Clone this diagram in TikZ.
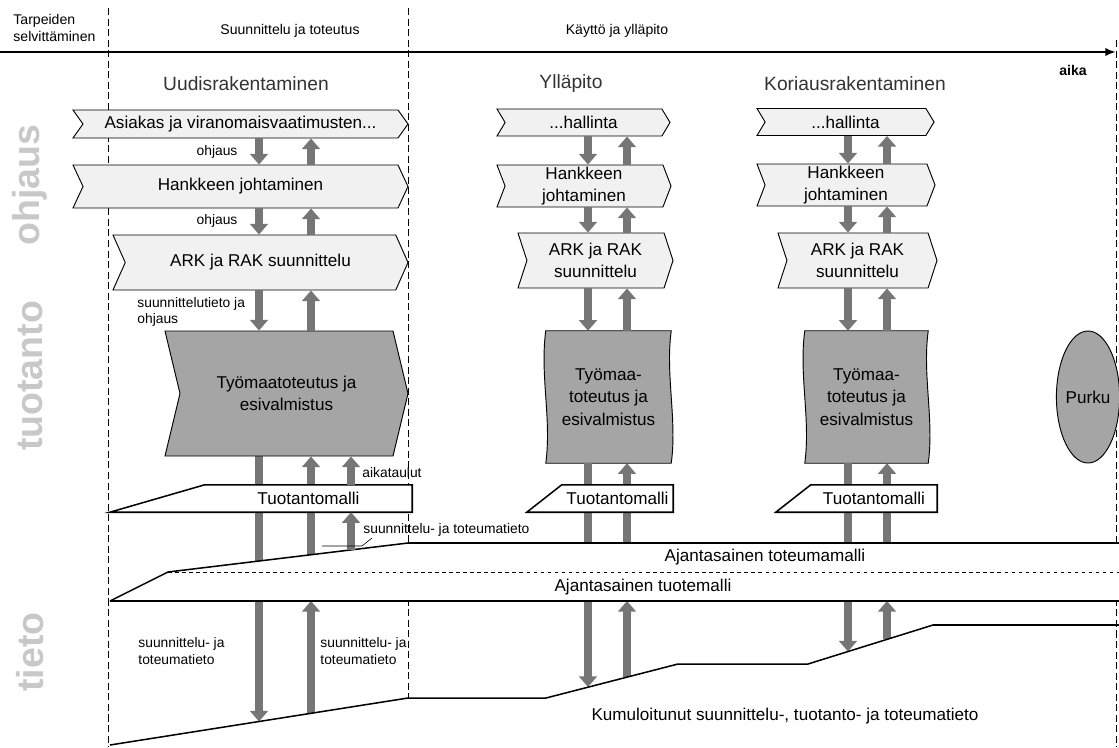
\documentclass[tikz,border=0pt]{standalone}
\usepackage{fontspec}
\setmainfont{Liberation Sans}
\usetikzlibrary{arrows.meta,positioning,shapes.symbols,shapes.geometric}
\definecolor{chevfill}{RGB}{241,241,241}
\definecolor{sitefill}{RGB}{165,165,165}
\definecolor{flowgray}{RGB}{118,118,118}
\definecolor{sidegray}{RGB}{200,200,200}
\pgfdeclarelayer{back}
\pgfsetlayers{back,main}
\tikzset{
  chev/.style={
    signal,
    signal from=west,
    signal to=east,
    draw=black,
    line width=0.8pt,
    fill=chevfill,
    inner sep=0pt,
    align=center,
    font=\fontsize{14.6}{19}\selectfont
  },
  site/.style={chev, fill=sitefill},
  sitebox/.style={
    rectangle,
    inner sep=0pt,
    align=center,
    minimum height=3.96cm,
    font=\fontsize{14.6}{19}\selectfont
  },
  model/.style={
    rectangle,
    inner sep=0pt,
    minimum height=0.81cm,
    font=\fontsize{14.6}{19}\selectfont
  },
  modelshape/.style={fill=white, draw=black, line width=1.3pt},
  flow/.style={draw=flowgray, line width=6pt, -{Triangle[length=9pt,width=15pt]}},
  note/.style={inner sep=1pt, align=left, font=\fontsize{11.8}{14}\selectfont},
  bandtext/.style={font=\fontsize{14.6}{19}\selectfont},
  phase/.style={inner sep=1pt, font=\fontsize{12}{14}\selectfont},
  title/.style={font=\fontsize{16.4}{19}\selectfont, text=black!80},
  side/.style={rotate=90, font=\bfseries\fontsize{32}{32}\selectfont, text=sidegray},
  guide/.style={dash pattern=on 6pt off 3pt, line width=0.5pt},
  level/.style={line width=1.3pt}
}

\begin{document}
\begin{tikzpicture}[x=0.03cm, y=-0.03cm]
  \useasboundingbox (0,0) rectangle (1119,747);

  % aikajana ja vaiheet
  \coordinate (t0) at (0,52);
  \coordinate (t1) at (1116,52);
  \draw[line width=1.8pt, -{Latex[length=9pt,width=7pt]}] (t0) -- (t1);
  \node[phase, align=left, anchor=west] (tarve) at (12,28) {Tarpeiden\\selvittäminen};
  \node[phase] (suto) at (290,31) {Suunnittelu ja toteutus};
  \node[phase] (kayt) at (617,31) {Käyttö ja ylläpito};
  \node[font=\bfseries\fontsize{12}{14}\selectfont] (aika) at (1073,70) {aika};

  % tasot
  \node[side] (ohj) at (30,185) {ohjaus};
  \node[side] (tuo) at (30,376) {tuotanto};
  \node[side] (tie) at (30,652) {tieto};

  \node[title] (uudis) at (246,84) {Uudisrakentaminen};
  \node[title] (yllap) at (571,84) {Ylläpito};
  \node[title] (korj) at (855,84) {Koriausrakentaminen};

  % uudisrakentaminen
  \node[chev, signal pointer angle=109, minimum width=10.05cm, minimum height=0.84cm] (asiakas) at (240.5,124) {Asiakas ja viranomaisvaatimusten...};
  \node[chev, signal pointer angle=130, minimum width=10.05cm, minimum height=1.29cm] (hank1) at (240.5,186.5) {Hankkeen johtaminen};
  \node[chev, signal pointer angle=132, minimum width=8.85cm, minimum height=1.65cm] (ark1) at (260.5,262.5) {ARK ja RAK suunnittelu};
  \node[site, signal pointer angle=153, minimum width=7.29cm, minimum height=3.75cm] (tyo1) at (286.5,393.5) {Työmaatoteutus ja\\esivalmistus};

  % ylläpito
  \node[chev, signal pointer angle=118, minimum width=5.19cm, minimum height=0.81cm] (hall2) at (583.5,122.5) {...hallinta};
  \node[chev, signal pointer angle=138, minimum width=5.22cm, minimum height=1.26cm] (hank2) at (584,186) {Hankkeen\\johtaminen};
  \node[chev, signal pointer angle=144, minimum width=4.65cm, minimum height=1.65cm] (ark2) at (595.5,260.5) {ARK ja RAK\\suunnittelu};
  \node[sitebox, minimum width=3.75cm] (tyo2) at (608.5,397) {Työmaa-\\toteutus ja\\esivalmistus};

  % korjausrakentaminen
  \node[chev, signal pointer angle=118, minimum width=5.31cm, minimum height=0.81cm] (hall3) at (845.5,122) {...hallinta};
  \node[chev, signal pointer angle=138, minimum width=5.34cm, minimum height=1.26cm] (hank3) at (846,185) {Hankkeen\\johtaminen};
  \node[chev, signal pointer angle=144, minimum width=4.77cm, minimum height=1.65cm] (ark3) at (857.5,260.5) {ARK ja RAK\\suunnittelu};
  \node[sitebox, minimum width=3.69cm] (tyo3) at (866.5,397) {Työmaa-\\toteutus ja\\esivalmistus};

  \node[ellipse, draw=black, line width=0.8pt, fill=sitefill, inner sep=0pt,
        minimum width=1.74cm, minimum height=3.96cm,
        font=\fontsize{14.6}{19}\selectfont] (purku) at (1088,397) {Purku};

  % tuotantomallit
  \node[model, minimum width=6.21cm] (tm1) at (308.5,498.5) {Tuotantomalli};
  \node[model, minimum width=3.33cm] (tm2) at (617.5,498.5) {Tuotantomalli};
  \node[model, minimum width=3.78cm] (tm3) at (874,498.5) {Tuotantomalli};

  % nuolten sarakkeet
  \coordinate (dU) at (259,0);
  \coordinate (uU) at (311,0);
  \coordinate (aU) at (351,0);
  \coordinate (dY) at (588,0);
  \coordinate (uY) at (627,0);
  \coordinate (dK) at (848,0);
  \coordinate (uK) at (887,0);

  % tietomallien rajat
  \coordinate (b0) at (110,601);
  \coordinate (b1) at (168,572);
  \coordinate (b2) at (408,543);
  \coordinate (b3) at (1119,543);
  \coordinate (b4) at (1119,601);
  \coordinate (c0) at (110,745);
  \coordinate (c1) at (408,698);
  \coordinate (c2) at (546,698);
  \coordinate (c3) at (678,664);
  \coordinate (c4) at (808,664);
  \coordinate (c5) at (933,625);
  \coordinate (c6) at (1119,625);
  % nuolten päät viivoilla
  \coordinate (kU1) at (259,721.5);
  \coordinate (kU2) at (311,713);
  \coordinate (kY1) at (588,687);
  \coordinate (kY2) at (627,677);
  \coordinate (kK1) at (848,651.5);
  \coordinate (kK2) at (887,639);
  \coordinate (mU1) at (311,554.7);
  \coordinate (mU2) at (351,550);

  \foreach \p/\q in {asiakas/hank1, hank1/ark1, ark1/tyo1}{
    \draw[flow] (\p.south -| dU) -- (\q.north -| dU);
    \draw[flow] (\q.north -| uU) -- (\p.south -| uU);
  }
  \foreach \p/\q in {hall2/hank2, hank2/ark2, ark2/tyo2}{
    \draw[flow] (\p.south -| dY) -- (\q.north -| dY);
    \draw[flow] (\q.north -| uY) -- (\p.south -| uY);
  }
  \foreach \p/\q in {hall3/hank3, hank3/ark3, ark3/tyo3}{
    \draw[flow] (\p.south -| dK) -- (\q.north -| dK);
    \draw[flow] (\q.north -| uK) -- (\p.south -| uK);
  }

  \begin{pgfonlayer}{back}
    \draw[guide] (108,8) -- (108,747);
    \draw[guide] (408,8) -- (408,698);
    \draw[guide] (1116,40) -- (1116,747);

    \foreach \s in {tyo2,tyo3}
      \filldraw[fill=sitefill, draw=black, line width=0.8pt]
        (\s.north west) .. controls ++(-6,44) and ++(6,-44) .. (\s.south west)
        -- (\s.south east) .. controls ++(6,-44) and ++(-6,44) .. (\s.north east) -- cycle;

    % pitkät nuolet mallien läpi
    \draw[flow] (tyo1.south -| dU) -- (kU1);
    \draw[flow] (mU1) -- (tyo1.south -| uU);
    \draw[flow] (kU2) -- (b0 -| uU);
    \draw[flow] (tyo2.south -| dY) -- (kY1);
    \draw[flow] (b3 -| uY) -- (tyo2.south -| uY);
    \draw[flow] (kY2) -- (b0 -| uY);
    \draw[flow] (tyo3.south -| dK) -- (kK1);
    \draw[flow] (b3 -| uK) -- (tyo3.south -| uK);
    \draw[flow] (kK2) -- (b0 -| uK);

    \fill[white] (b0) -- (b1) -- (b2) -- (b3) -- (b4) -- cycle;
    \draw[level] (b0) -- (b1) -- (b2) -- (b3);
    \draw[level] (b0) -- (b4);
    \draw[dashed, line width=0.6pt] (b1) -- (b1 -| b4);
    \draw[level] (c0) -- (c1) -- (c2) -- (c3) -- (c4) -- (c5) -- (c6);

    \filldraw[modelshape] (tm1.north east) -- (tm1.north west) -- ([xshift=-2.85cm]tm1.south west) -- (tm1.south east) -- cycle;
    \filldraw[modelshape] (tm2.north east) -- (tm2.north west) -- ([xshift=-1.05cm]tm2.south west) -- (tm2.south east) -- cycle;
    \filldraw[modelshape] (tm3.north east) -- (tm3.north west) -- ([xshift=-1.05cm]tm3.south west) -- (tm3.south east) -- cycle;
  \end{pgfonlayer}

  \draw[flow] (tm1.north -| aU) -- (tyo1.south -| aU);
  \draw[flow] (mU2) -- (tm1.south -| aU);
  \draw[line width=0.5pt] (322,546) -- (362,546) -- (372,538);

  % tekstit
  \node[note] (ohj1) at (217,152) {ohjaus};
  \node[note] (ohj2) at (217,221) {ohjaus};
  \node[note, anchor=west] (sto) at (136,312) {suunnittelutieto ja\\ohjaus};
  \node[note, anchor=west] (aikat) at (361,473) {aikataulut};
  \node[note, anchor=west] (stt0) at (362,530) {suunnittelu- ja toteumatieto};
  \node[note, anchor=west] (stt1) at (137,651) {suunnittelu- ja\\toteumatieto};
  \node[note, anchor=west] (stt2) at (319,651) {suunnittelu- ja\\toteumatieto};

  \node[bandtext] (totm) at (765,557) {Ajantasainen toteumamalli};
  \node[bandtext] (tuom) at (643,587) {Ajantasainen tuotemalli};
  \node[bandtext] (kum) at (785,716) {Kumuloitunut suunnittelu-, tuotanto- ja toteumatieto};
\end{tikzpicture}
\end{document}
